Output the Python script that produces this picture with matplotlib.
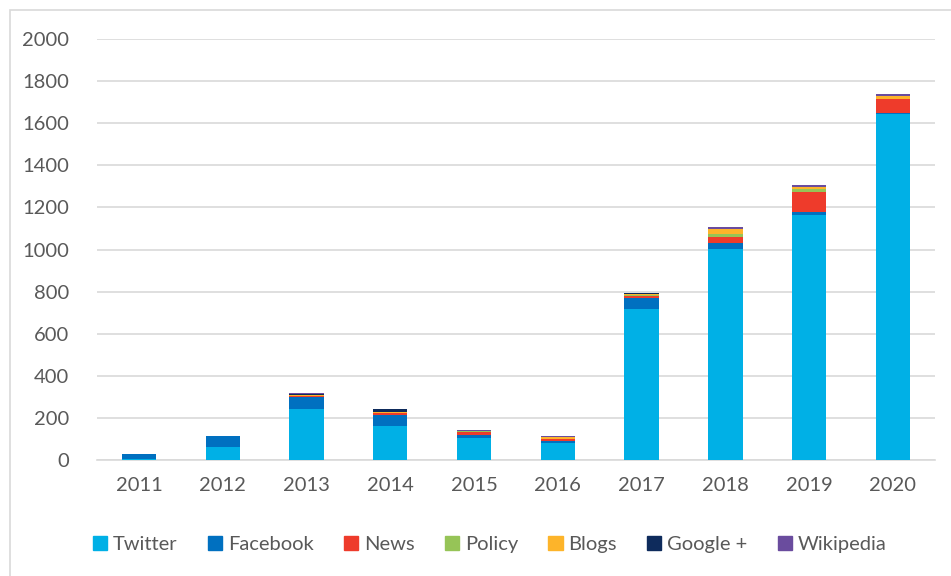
import matplotlib.pyplot as plt
import matplotlib.patches as mpatches
import numpy as np

plt.rcParams['font.family'] = ['Lato', 'DejaVu Sans']

years = ['2011', '2012', '2013', '2014', '2015', '2016', '2017', '2018', '2019', '2020']
twitter = [5, 60, 242, 162, 106, 82, 719, 1002, 1165, 1643]
facebook = [23, 54, 58, 53, 13, 6, 49, 27, 15, 5]
news = [0, 0, 3, 6, 15, 10, 12, 32, 92, 67]
policy = [0, 0, 3, 3, 2, 2, 2, 12, 14, 3]
blogs = [0, 0, 5, 5, 3, 7, 8, 24, 10, 12]
google = [0, 0, 5, 12, 1, 3, 2, 2, 1, 2]
wikipedia = [0, 0, 1, 3, 3, 5, 4, 9, 8, 7]

series = [
    ('Twitter', twitter, '#00b0e6'),
    ('Facebook', facebook, '#0070c0'),
    ('News', news, '#ee3b2b'),
    ('Policy', policy, '#96c457'),
    ('Blogs', blogs, '#fdb42a'),
    ('Google +', google, '#0e2b5c'),
    ('Wikipedia', wikipedia, '#6a4c9e'),
]

fig = plt.figure(figsize=(9.51, 5.76), dpi=100)
ax = fig.add_axes([0.102, 0.2014, 0.881, 0.7306])

x = np.arange(len(years))
bottom = np.zeros(len(years))
handles = []
for name, vals, col in series:
    vals = np.array(vals, dtype=float)
    ax.bar(x, vals, 0.41, bottom=bottom, color=col, zorder=3)
    bottom += vals
    handles.append(mpatches.Patch(color=col, label=name))

ax.set_xlim(-0.5, 9.5)
ax.set_ylim(0, 2000)
ax.set_yticks(np.arange(0, 2001, 200))
ax.set_xticks(x)
ax.set_xticklabels(years)
ax.grid(axis='y', color='#d9d9d9', linewidth=1.2, zorder=0)
for s in ['top', 'right', 'left']:
    ax.spines[s].set_visible(False)
ax.spines['bottom'].set_color('#d9d9d9')
ax.spines['bottom'].set_linewidth(1.2)
ax.tick_params(length=0, labelsize=14.5, labelcolor='#595959')
ax.tick_params(axis='x', pad=12)
ax.tick_params(axis='y', pad=20)

fig.legend(handles=handles, loc='center', bbox_to_anchor=(0.515, 0.055), ncol=7,
           frameon=False, fontsize=14.5, labelcolor='#595959',
           handlelength=0.7, handleheight=0.7, handletextpad=0.3, columnspacing=1.5)

fig.patches.append(mpatches.Rectangle((0.011, -0.01), 1.0, 0.993, transform=fig.transFigure,
                                      fill=False, edgecolor='#d9d9d9', linewidth=1.2))

fig.savefig('out.png', dpi=100)
